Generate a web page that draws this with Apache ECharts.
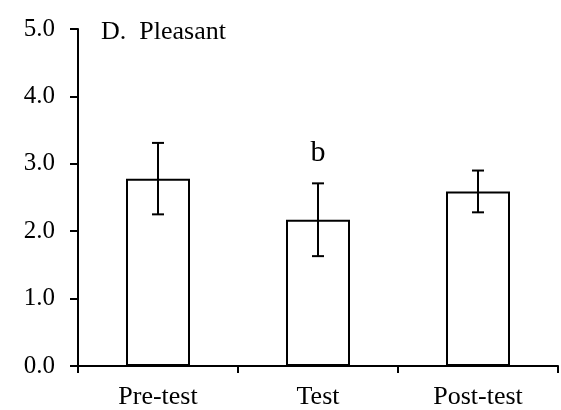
<!DOCTYPE html>
<html>
<head>
<meta charset="utf-8">
<script src="https://cdn.jsdelivr.net/npm/echarts@6/dist/echarts.min.js"></script>
<style>
  html, body { margin: 0; padding: 0; background: #fff; }
  #chart { width: 561px; height: 410px; }
</style>
</head>
<body>
<div id="chart"></div>
<script>
// Mean pleasantness rating per phase, with error bar half-widths
const categories = ['Pre-test', 'Test', 'Post-test'];
const means = [2.78, 2.17, 2.59];
const errors = [0.53, 0.54, 0.31];
const marks = ['', 'b', ''];
const yTicks = [0, 1, 2, 3, 4, 5];

const FONT = '"Liberation Serif", "Times New Roman", serif';

const errorData = categories.map((c, i) => [i, means[i] - errors[i], means[i] + errors[i], marks[i]]);

const chart = echarts.init(document.getElementById('chart'), null, { renderer: 'canvas' });

chart.setOption({
  animation: false,
  backgroundColor: '#fff',
  title: {
    text: 'D.  Pleasant',
    left: 96,
    top: 14,
    textStyle: { fontFamily: FONT, fontSize: 26, fontWeight: 'normal', color: '#000' }
  },
  grid: { left: 78, right: 3, top: 29, bottom: 43, containLabel: false },
  xAxis: {
    type: 'category',
    data: categories,
    axisLine: { lineStyle: { color: '#000', width: 2 } },
    axisTick: { show: true, length: 7, lineStyle: { color: '#000', width: 2 } },
    axisLabel: { fontFamily: FONT, fontSize: 26, color: '#000', margin: 18 }
  },
  yAxis: {
    type: 'value',
    min: yTicks[0],
    max: yTicks[yTicks.length - 1],
    interval: 1,
    splitLine: { show: false },
    axisLine: { show: true, lineStyle: { color: '#000', width: 2 } },
    axisTick: { show: true, length: 8, lineStyle: { color: '#000', width: 2 } },
    axisLabel: {
      fontFamily: FONT, fontSize: 25, color: '#000', margin: 23,
      formatter: v => v.toFixed(1)
    }
  },
  series: [
    {
      type: 'bar',
      data: means,
      barWidth: '40%',
      itemStyle: { color: '#fff', borderColor: '#000', borderWidth: 2 },
      z: 2
    },
    {
      type: 'custom',
      data: errorData,
      z: 3,
      renderItem: (params, api) => {
        const x = api.value(0);
        const lo = api.coord([x, api.value(1)]);
        const hi = api.coord([x, api.value(2)]);
        const half = 6;
        const style = { stroke: '#000', lineWidth: 2 };
        const children = [
          { type: 'line', shape: { x1: hi[0], y1: hi[1], x2: lo[0], y2: lo[1] }, style },
          { type: 'line', shape: { x1: hi[0] - half, y1: hi[1], x2: hi[0] + half, y2: hi[1] }, style },
          { type: 'line', shape: { x1: lo[0] - half, y1: lo[1], x2: lo[0] + half, y2: lo[1] }, style }
        ];
        const mark = marks[params.dataIndex];
        if (mark) {
          children.push({
            type: 'text',
            x: hi[0],
            y: hi[1] - 15,
            style: {
              text: mark, fill: '#000', font: '30px ' + FONT,
              textAlign: 'center', textVerticalAlign: 'bottom'
            }
          });
        }
        return { type: 'group', children };
      }
    }
  ]
});
</script>
</body>
</html>
